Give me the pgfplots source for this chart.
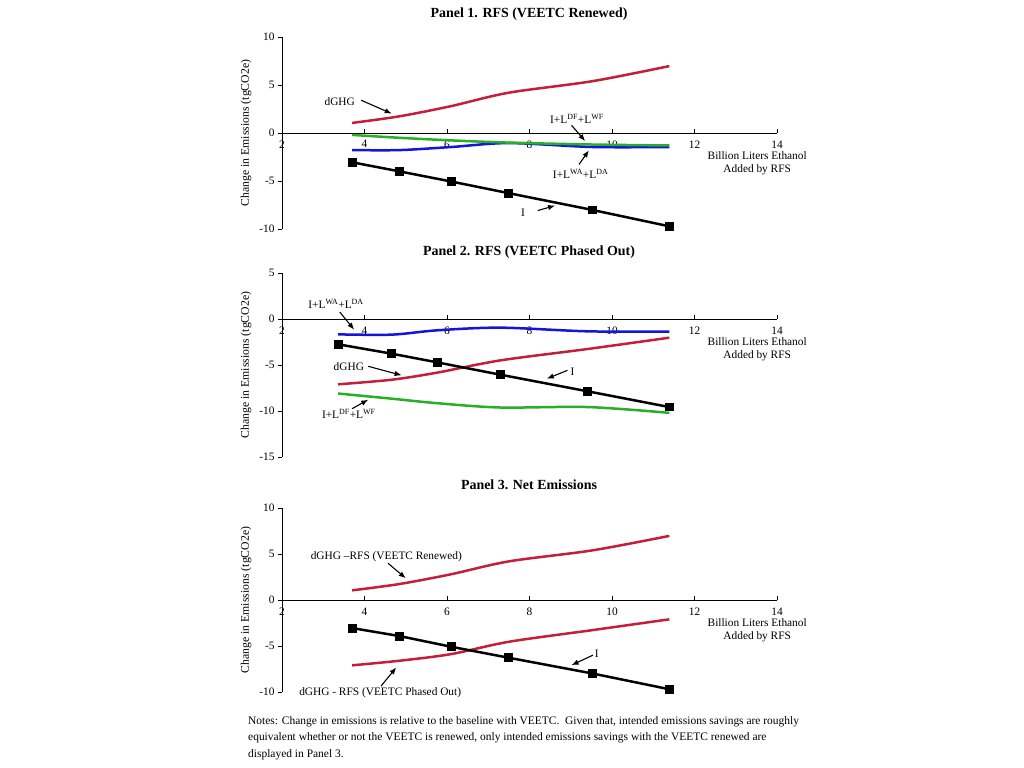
\documentclass[border=0pt]{standalone}
\usepackage{fontspec}
\setmainfont{Liberation Serif}
\usepackage{pgfplots}
\pgfplotsset{compat=1.18}
\usetikzlibrary{arrows.meta}

\definecolor{dred}{RGB}{196,30,58}
\definecolor{dgreen}{RGB}{40,175,40}
\definecolor{dblue}{RGB}{20,20,225}

\newcommand{\lab}{\fontsize{11.4}{13.5}\selectfont}
\newcommand{\sx}[1]{\textsuperscript{#1}}

\tikzset{arr/.style={-{Latex[length=7bp,width=5.5bp]}, line width=1.1bp}}

\pgfplotsset{
  panel/.style={
    scale only axis, width=495bp,
    xmin=2, xmax=14, xtick={2,4,...,14},
    axis x line=middle, axis y line=left,
    axis line style={-, line width=1bp},
    hide obscured x ticks=false, hide obscured y ticks=false,
    clip=false,
    tick style={black, line width=0.8bp},
    major tick length=4bp,
    tick align=outside,
    x tick style={yshift=4bp},
    ticklabel style={font=\lab},
    ylabel={Change in Emissions (tgCO2e)},
    ylabel style={font=\fontsize{11.8}{13}\selectfont, at={(axis description cs:-0.0727,0.5)}, anchor=center},
    /pgf/number format/assume math mode=true,
  },
  dline/.style={line width=2.5bp, smooth, no marks},
  iline/.style={line width=2.5bp, black, mark=square*, mark size=3.2bp, mark options={solid}},
}

\begin{document}
\begin{tikzpicture}
\path[use as bounding box] (0,0) rectangle (1024bp,-768bp);

\node[font=\bfseries\fontsize{14}{16}\selectfont] at (529bp,-14bp) {Panel 1. RFS (VEETC Renewed)};
\node[font=\bfseries\fontsize{14}{16}\selectfont] at (529bp,-252bp) {Panel 2. RFS (VEETC Phased Out)};
\node[font=\bfseries\fontsize{14}{16}\selectfont] at (529bp,-485bp) {Panel 3. Net Emissions};

% Panel 1
\begin{axis}[panel, at={(282bp,-229bp)}, anchor=south west, height=192bp,
  ymin=-10, ymax=10, ytick={-10,-5,0,5,10}]
\addplot[dline, dblue] coordinates {(3.70,-1.78) (4.85,-1.78) (6.10,-1.46) (7.50,-1.05) (9.53,-1.46) (11.39,-1.46)};
\addplot[dline, dgreen] coordinates {(3.70,-0.2) (4.85,-0.5) (6.10,-0.77) (7.50,-1.0) (9.53,-1.2) (11.39,-1.3)};
\addplot[dline, dred] coordinates {(3.70,1.05) (4.85,1.74) (6.10,2.8) (7.50,4.2) (9.53,5.4) (11.39,6.97)};
\addplot[iline] coordinates {(3.70,-3.05) (4.85,-4.0) (6.10,-5.05) (7.50,-6.27) (9.53,-8.02) (11.39,-9.72)};
\node[font=\lab] at (axis cs:3.40,3.24) {dGHG};
\draw[arr] (axis cs:3.92,3.41) -- (axis cs:4.66,2.02);
\node[font=\lab] at (axis cs:9.15,1.5) {I+L\sx{DF}+L\sx{WF}};
\draw[arr] (axis cs:9.02,0.8) -- (axis cs:9.35,-0.84);
\node[font=\lab] at (axis cs:9.24,-4.25) {I+L\sx{WA}+L\sx{DA}};
\draw[arr] (axis cs:9.2,-3.28) -- (axis cs:9.44,-1.81);
\node[font=\lab] at (axis cs:7.84,-8.26) {I};
\draw[arr] (axis cs:8.2,-8.08) -- (axis cs:8.62,-7.56);
\node[font=\lab, align=center, anchor=north, inner sep=0pt, yshift=-18bp] at (axis cs:13.52,0) {Billion Liters Ethanol\\Added by RFS};
\end{axis}

% Panel 2
\begin{axis}[panel, at={(282bp,-457bp)}, anchor=south west, height=184bp,
  ymin=-15, ymax=5, ytick={-15,-10,-5,0,5}]
\addplot[dline, dblue] coordinates {(3.36,-1.67) (4.66,-1.7) (5.76,-1.23) (7.29,-0.94) (9.41,-1.34) (11.39,-1.38)};
\addplot[dline, dred] coordinates {(3.36,-7.1) (4.66,-6.6) (5.76,-5.83) (7.29,-4.5) (9.41,-3.26) (11.39,-2.03)};
\addplot[dline, dgreen] coordinates {(3.36,-8.1) (4.66,-8.66) (5.76,-9.15) (7.29,-9.62) (9.41,-9.57) (11.39,-10.2)};
\addplot[iline] coordinates {(3.36,-2.75) (4.66,-3.77) (5.76,-4.71) (7.29,-6.05) (9.41,-7.86) (11.39,-9.57)};
\node[font=\lab] at (axis cs:3.31,1.67) {I+L\sx{WA}+L\sx{DA}};
\draw[arr] (axis cs:3.40,0.76) -- (axis cs:3.75,-1.16);
\node[font=\lab] at (axis cs:3.62,-5.22) {dGHG};
\draw[arr] (axis cs:4.09,-5.14) -- (axis cs:4.90,-6.12);
\node[font=\lab] at (axis cs:9.04,-5.76) {I};
\draw[arr] (axis cs:8.92,-5.58) -- (axis cs:8.42,-6.49);
\node[font=\lab] at (axis cs:3.62,-10.36) {I+L\sx{DF}+L\sx{WF}};
\draw[arr] (axis cs:3.70,-9.75) -- (axis cs:4.09,-8.77);
\node[font=\lab, align=center, anchor=north, inner sep=0pt, yshift=-18bp] at (axis cs:13.52,0) {Billion Liters Ethanol\\Added by RFS};
\end{axis}

% Panel 3
\begin{axis}[panel, at={(282bp,-692bp)}, anchor=south west, height=184bp,
  ymin=-10, ymax=10, ytick={-10,-5,0,5,10}]
\addplot[dline, dred] coordinates {(3.70,1.05) (4.85,1.74) (6.10,2.8) (7.50,4.2) (9.53,5.4) (11.39,6.97)};
\addplot[dline, dred] coordinates {(3.70,-7.1) (4.85,-6.6) (6.10,-5.88) (7.50,-4.54) (9.53,-3.27) (11.39,-2.1)};
\addplot[iline] coordinates {(3.70,-3.05) (4.85,-3.92) (6.10,-5.08) (7.50,-6.28) (9.53,-7.99) (11.39,-9.7)};
\node[font=\lab] at (axis cs:4.53,4.65) {dGHG --RFS (VEETC Renewed)};
\draw[arr] (axis cs:4.57,4.0) -- (axis cs:5.0,2.36);
\node[font=\lab] at (axis cs:9.63,-5.88) {I};
\draw[arr] (axis cs:9.54,-5.99) -- (axis cs:9.02,-7.08);
\node[font=\lab] at (axis cs:4.38,-10.1) {dGHG - RFS (VEETC Phased Out)};
\draw[arr] (axis cs:4.40,-9.36) -- (axis cs:4.77,-7.33);
\node[font=\lab, align=center, anchor=north, inner sep=0pt, yshift=-18bp] at (axis cs:13.52,0) {Billion Liters Ethanol\\Added by RFS};
\end{axis}

\node[font=\fontsize{11.5}{16.5}\selectfont, anchor=north west, align=left, inner sep=0pt] at (248bp,-716bp)
{Notes: Change in emissions is relative to the baseline with VEETC.\ \ Given that, intended emissions savings are roughly\\
equivalent whether or not the VEETC is renewed, only intended emissions savings with the VEETC renewed are\\
displayed in Panel 3.};
\end{tikzpicture}
\end{document}
